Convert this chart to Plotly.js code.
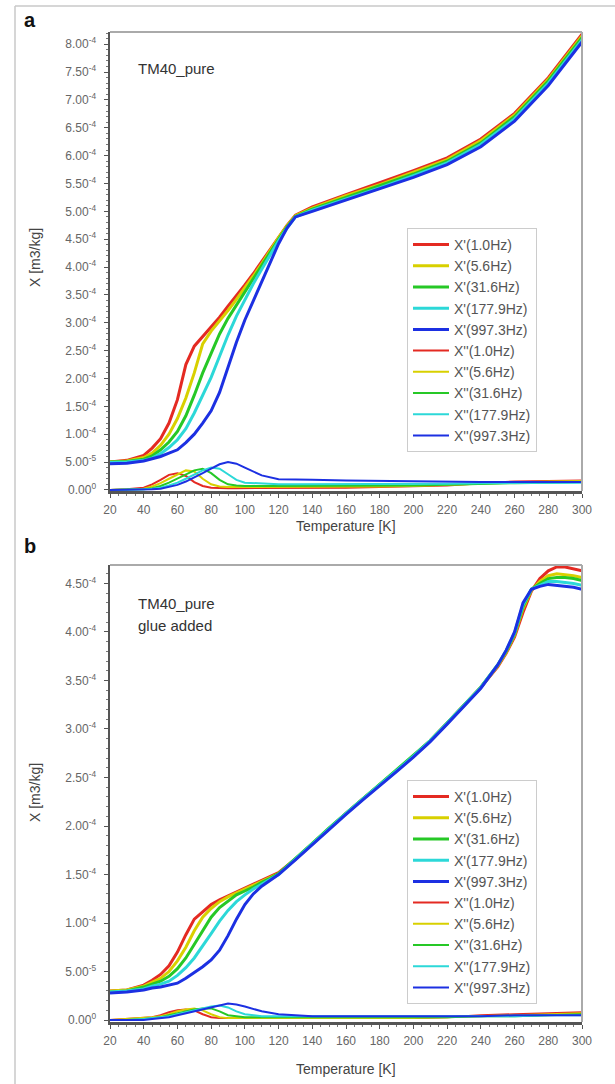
<!DOCTYPE html>
<html>
<head>
<meta charset="utf-8">
<script src="https://cdn.plot.ly/plotly-3.0.1.min.js"></script>
<style>html,body{margin:0;padding:0;background:#fff;}#chart{width:615px;height:1084px;}</style>
</head>
<body>
<div id="chart"></div>
<script>
// Values in units of 1e-4 m3/kg
const seriesNames1 = ["X'(1.0Hz)", "X'(5.6Hz)", "X'(31.6Hz)", "X'(177.9Hz)", "X'(997.3Hz)"];
const seriesNames2 = ["X''(1.0Hz)", "X''(5.6Hz)", "X''(31.6Hz)", "X''(177.9Hz)", "X''(997.3Hz)"];
const colors = ["#e42a22", "#d8d000", "#26c826", "#2cd8d8", "#1c30e2"];

const xTicks = [20,40,60,80,100,120,140,160,180,200,220,240,260,280,300];

// ---- Panel a ----
const Ta1 = [20,30,40,45,50,55,60,65,70,75,80,85,90,95,100,105,110,115,120,125,130,140,160,180,200,220,240,260,280,300];
const a_re_1 = [0.50,0.53,0.62,0.75,0.92,1.20,1.62,2.25,2.58,2.75,2.92,3.10,3.30,3.48,3.68,3.88,4.10,4.32,4.55,4.75,4.93,5.08,5.30,5.51,5.73,5.96,6.30,6.76,7.40,8.18];
const a_re_2 = [0.50,0.52,0.58,0.66,0.80,1.00,1.28,1.65,2.10,2.62,2.85,3.03,3.22,3.42,3.62,3.84,4.06,4.30,4.53,4.74,4.92,5.06,5.28,5.48,5.70,5.93,6.27,6.73,7.37,8.15];
const a_re_3 = [0.50,0.51,0.55,0.61,0.72,0.86,1.05,1.33,1.70,2.10,2.45,2.80,3.08,3.32,3.55,3.78,4.02,4.27,4.50,4.72,4.91,5.04,5.25,5.45,5.67,5.90,6.23,6.70,7.34,8.12];
const a_re_4 = [0.49,0.50,0.53,0.57,0.65,0.76,0.90,1.10,1.38,1.70,2.02,2.40,2.78,3.12,3.42,3.70,3.96,4.22,4.47,4.70,4.90,5.02,5.22,5.42,5.64,5.87,6.20,6.66,7.30,8.08];
const a_re_5 = [0.47,0.48,0.52,0.56,0.60,0.66,0.72,0.85,1.00,1.20,1.42,1.75,2.20,2.65,3.05,3.40,3.75,4.10,4.42,4.70,4.90,5.00,5.20,5.40,5.61,5.84,6.16,6.62,7.26,8.04];

const Ta2 = [20,30,40,45,50,55,60,65,70,75,80,85,90,95,100,110,120,130,140,160,180,200,220,240,260,280,300];
const a_im_1 = [0,0.01,0.04,0.10,0.18,0.27,0.30,0.25,0.14,0.07,0.04,0.03,0.03,0.03,0.03,0.03,0.03,0.03,0.03,0.04,0.05,0.06,0.08,0.12,0.15,0.16,0.17];
const a_im_2 = [0,0.01,0.02,0.06,0.12,0.20,0.28,0.35,0.33,0.20,0.10,0.06,0.05,0.05,0.05,0.05,0.05,0.05,0.05,0.05,0.06,0.07,0.09,0.12,0.14,0.15,0.16];
const a_im_3 = [0,0,0.01,0.03,0.07,0.13,0.20,0.28,0.35,0.38,0.30,0.18,0.10,0.08,0.07,0.07,0.07,0.07,0.07,0.07,0.07,0.08,0.09,0.11,0.12,0.13,0.14];
const a_im_4 = [0,0,0.01,0.02,0.04,0.08,0.13,0.20,0.28,0.35,0.40,0.38,0.28,0.18,0.13,0.11,0.10,0.10,0.10,0.10,0.10,0.10,0.11,0.12,0.12,0.13,0.13];
const a_im_5 = [0,0,0,0.01,0.02,0.05,0.09,0.15,0.22,0.30,0.38,0.46,0.50,0.47,0.40,0.26,0.19,0.18,0.18,0.17,0.16,0.15,0.14,0.14,0.14,0.14,0.14];

const a_yTickVals = [0,0.5,1,1.5,2,2.5,3,3.5,4,4.5,5,5.5,6,6.5,7,7.5,8];
const a_yTickText = ["0.00<sup>0</sup>","5.00<sup>-5</sup>","1.00<sup>-4</sup>","1.50<sup>-4</sup>","2.00<sup>-4</sup>","2.50<sup>-4</sup>","3.00<sup>-4</sup>","3.50<sup>-4</sup>","4.00<sup>-4</sup>","4.50<sup>-4</sup>","5.00<sup>-4</sup>","5.50<sup>-4</sup>","6.00<sup>-4</sup>","6.50<sup>-4</sup>","7.00<sup>-4</sup>","7.50<sup>-4</sup>","8.00<sup>-4</sup>"];

// ---- Panel b ----
const Tb1 = [20,30,40,45,50,55,60,65,70,75,80,85,90,95,100,105,110,115,120,130,140,150,160,170,180,190,200,210,220,230,240,250,255,260,265,270,275,280,285,290,295,300];
const b_re_1 = [0.30,0.31,0.36,0.41,0.47,0.56,0.70,0.88,1.04,1.12,1.19,1.24,1.28,1.32,1.36,1.40,1.44,1.48,1.52,1.66,1.82,1.98,2.13,2.28,2.42,2.57,2.72,2.88,3.06,3.24,3.43,3.64,3.78,3.95,4.20,4.42,4.55,4.63,4.67,4.67,4.65,4.63];
const b_re_2 = [0.30,0.31,0.35,0.39,0.43,0.50,0.61,0.75,0.92,1.06,1.15,1.22,1.27,1.31,1.35,1.39,1.43,1.47,1.51,1.66,1.82,1.98,2.13,2.28,2.42,2.57,2.72,2.88,3.06,3.24,3.43,3.65,3.79,3.97,4.24,4.43,4.52,4.58,4.60,4.59,4.58,4.56];
const b_re_3 = [0.29,0.30,0.34,0.37,0.40,0.45,0.53,0.64,0.78,0.93,1.06,1.16,1.23,1.29,1.33,1.37,1.42,1.46,1.51,1.66,1.82,1.98,2.13,2.28,2.42,2.57,2.72,2.88,3.06,3.24,3.43,3.66,3.80,3.98,4.26,4.44,4.50,4.55,4.56,4.56,4.55,4.53];
const b_re_4 = [0.29,0.30,0.32,0.35,0.37,0.40,0.46,0.54,0.64,0.76,0.89,1.02,1.13,1.22,1.29,1.35,1.40,1.45,1.50,1.66,1.82,1.98,2.13,2.28,2.42,2.57,2.72,2.88,3.06,3.24,3.43,3.66,3.81,3.99,4.28,4.44,4.48,4.52,4.52,4.51,4.50,4.48];
const b_re_5 = [0.28,0.29,0.31,0.33,0.34,0.36,0.38,0.43,0.49,0.55,0.62,0.72,0.87,1.04,1.19,1.30,1.38,1.44,1.50,1.65,1.81,1.97,2.12,2.27,2.41,2.56,2.71,2.87,3.05,3.23,3.42,3.66,3.81,4.00,4.30,4.44,4.47,4.49,4.48,4.47,4.46,4.44];

const Tb2 = [20,30,40,45,50,55,60,65,70,75,80,85,90,95,100,110,120,130,140,160,180,200,220,240,260,280,300];
const b_im_1 = [0,0.01,0.02,0.03,0.05,0.08,0.10,0.11,0.10,0.06,0.03,0.02,0.02,0.02,0.02,0.02,0.02,0.02,0.02,0.02,0.02,0.02,0.03,0.05,0.06,0.07,0.08];
const b_im_2 = [0,0.01,0.02,0.03,0.04,0.06,0.09,0.11,0.12,0.10,0.06,0.03,0.02,0.02,0.02,0.02,0.02,0.02,0.02,0.02,0.02,0.02,0.03,0.04,0.05,0.06,0.07];
const b_im_3 = [0,0,0.01,0.02,0.03,0.05,0.07,0.09,0.11,0.12,0.12,0.09,0.05,0.04,0.03,0.03,0.03,0.03,0.03,0.03,0.03,0.03,0.03,0.04,0.04,0.05,0.06];
const b_im_4 = [0,0,0.01,0.02,0.03,0.04,0.06,0.08,0.10,0.12,0.14,0.15,0.13,0.09,0.06,0.04,0.04,0.04,0.04,0.04,0.04,0.04,0.04,0.04,0.04,0.05,0.05];
const b_im_5 = [0,0,0,0.01,0.02,0.03,0.05,0.07,0.09,0.11,0.13,0.15,0.17,0.16,0.14,0.09,0.06,0.05,0.04,0.04,0.04,0.04,0.04,0.04,0.05,0.05,0.05];

const b_yTickVals = [0,0.5,1,1.5,2,2.5,3,3.5,4,4.5];
const b_yTickText = ["0.00<sup>0</sup>","5.00<sup>-5</sup>","1.00<sup>-4</sup>","1.50<sup>-4</sup>","2.00<sup>-4</sup>","2.50<sup>-4</sup>","3.00<sup>-4</sup>","3.50<sup>-4</sup>","4.00<sup>-4</sup>","4.50<sup>-4</sup>"];

const aRe = [a_re_1,a_re_2,a_re_3,a_re_4,a_re_5];
const aIm = [a_im_1,a_im_2,a_im_3,a_im_4,a_im_5];
const bRe = [b_re_1,b_re_2,b_re_3,b_re_4,b_re_5];
const bIm = [b_im_1,b_im_2,b_im_3,b_im_4,b_im_5];

const traces = [];
function addSet(T, arrs, names, width, xa, ya, leg) {
  arrs.forEach((ys, i) => {
    traces.push({x: T, y: ys, type: 'scatter', mode: 'lines', name: names[i],
      line: {color: colors[i], width: width}, xaxis: xa, yaxis: ya, legend: leg});
  });
}
addSet(Ta1, aRe, seriesNames1, 3, 'x', 'y', 'legend');
addSet(Ta2, aIm, seriesNames2, 2, 'x', 'y', 'legend');
addSet(Tb1, bRe, seriesNames1, 3, 'x2', 'y2', 'legend2');
addSet(Tb2, bIm, seriesNames2, 2, 'x2', 'y2', 'legend2');

const W = 615, H = 1084;
const px = v => v / W, py = v => 1 - v / H;
const xDom = [px(110), px(582)];
const aTop = 32, aBot = 491, bTop = 565, bBot = 1022;

const tickFont = {family: 'Liberation Sans, Arial, sans-serif', size: 12, color: '#666'};
function xAxis(anchor) {
  return {domain: xDom, range: [20, 300], anchor: anchor, tickvals: xTicks,
    ticks: 'outside', ticklen: 4, tickwidth: 1, tickcolor: '#555', ticklabelstandoff: 2,
    showline: true, linecolor: '#555', linewidth: 2.5, showgrid: false, zeroline: false,
    tickfont: tickFont, minor: {dtick: 5, ticks: 'outside', ticklen: 2, tickcolor: '#777'}};
}
function yAxis(anchor, dom, rng, tv, tt) {
  return {domain: dom, range: rng, anchor: anchor, tickvals: tv, ticktext: tt,
    ticks: 'outside', ticklen: 4, tickwidth: 1, tickcolor: '#555', ticklabelstandoff: 5,
    showline: true, linecolor: '#555', linewidth: 2.5, showgrid: false, zeroline: false,
    tickfont: tickFont, minor: {dtick: 0.1, ticks: 'outside', ticklen: 2, tickcolor: '#777'}};
}

const annFont = {family: 'Liberation Sans, Arial, sans-serif', size: 14, color: '#444'};
const legFont = {family: 'Liberation Sans, Arial, sans-serif', size: 14, color: '#555'};
const layout = {
  width: W, height: H, margin: {l: 0, r: 0, t: 0, b: 0},
  paper_bgcolor: '#fff', plot_bgcolor: '#fff', showlegend: true,
  xaxis: xAxis('y'),
  yaxis: yAxis('x', [py(aBot), py(aTop)], [-0.02, 8.22], a_yTickVals, a_yTickText),
  xaxis2: xAxis('y2'),
  yaxis2: yAxis('x2', [py(bBot), py(bTop)], [-0.02, 4.69], b_yTickVals, b_yTickText),
  legend: {x: px(407), y: py(228), xanchor: 'left', yanchor: 'top', bgcolor: '#fff',
    bordercolor: '#ccc', borderwidth: 1, font: legFont, tracegroupgap: 0, itemwidth: 36},
  legend2: {x: px(407), y: py(780), xanchor: 'left', yanchor: 'top', bgcolor: '#fff',
    bordercolor: '#ccc', borderwidth: 1, font: legFont, tracegroupgap: 0, itemwidth: 36},
  shapes: [
    {type: 'line', xref: 'paper', yref: 'paper', x0: px(15), x1: px(15), y0: 0, y1: py(6), line: {color: '#c8c8c8', width: 1.5}},
    {type: 'line', xref: 'paper', yref: 'paper', x0: px(15), x1: 1, y0: py(6), y1: py(6), line: {color: '#c8c8c8', width: 1.5}},
    {type: 'line', xref: 'paper', yref: 'paper', x0: px(110), x1: px(582), y0: py(aTop), y1: py(aTop), line: {color: '#aaa', width: 2}},
    {type: 'line', xref: 'paper', yref: 'paper', x0: px(582), x1: px(582), y0: py(aTop), y1: py(aBot), line: {color: '#aaa', width: 2}},
    {type: 'line', xref: 'paper', yref: 'paper', x0: px(110), x1: px(582), y0: py(bTop), y1: py(bTop), line: {color: '#aaa', width: 2}},
    {type: 'line', xref: 'paper', yref: 'paper', x0: px(582), x1: px(582), y0: py(bTop), y1: py(bBot), line: {color: '#aaa', width: 2}}
  ],
  annotations: [
    {text: '<b>a</b>', xref: 'paper', yref: 'paper', x: px(22), y: py(20), xanchor: 'left', yanchor: 'middle', showarrow: false,
      font: {family: 'Liberation Sans, Arial, sans-serif', size: 20, color: '#111'}},
    {text: '<b>b</b>', xref: 'paper', yref: 'paper', x: px(22), y: py(546), xanchor: 'left', yanchor: 'middle', showarrow: false,
      font: {family: 'Liberation Sans, Arial, sans-serif', size: 20, color: '#111'}},
    {text: 'TM40_pure', xref: 'paper', yref: 'paper', x: px(136), y: py(68), xanchor: 'left', yanchor: 'middle', showarrow: false,
      font: {family: 'Liberation Sans, Arial, sans-serif', size: 15, color: '#333'}},
    {text: 'TM40_pure', xref: 'paper', yref: 'paper', x: px(136), y: py(603), xanchor: 'left', yanchor: 'middle', showarrow: false,
      font: {family: 'Liberation Sans, Arial, sans-serif', size: 15, color: '#333'}},
    {text: 'glue added', xref: 'paper', yref: 'paper', x: px(136), y: py(625), xanchor: 'left', yanchor: 'middle', showarrow: false,
      font: {family: 'Liberation Sans, Arial, sans-serif', size: 15, color: '#333'}},
    {text: 'X [m3/kg]', xref: 'paper', yref: 'paper', x: px(35), y: py(258), xanchor: 'center', yanchor: 'middle', textangle: -90, showarrow: false, font: annFont},
    {text: 'X [m3/kg]', xref: 'paper', yref: 'paper', x: px(35), y: py(793), xanchor: 'center', yanchor: 'middle', textangle: -90, showarrow: false, font: annFont},
    {text: 'Temperature [K]', xref: 'paper', yref: 'paper', x: px(346), y: py(526), xanchor: 'center', yanchor: 'middle', showarrow: false, font: annFont},
    {text: 'Temperature [K]', xref: 'paper', yref: 'paper', x: px(346), y: py(1069), xanchor: 'center', yanchor: 'middle', showarrow: false, font: annFont}
  ]
};

Plotly.newPlot('chart', traces, layout, {displayModeBar: false, staticPlot: true});
</script>
</body>
</html>
